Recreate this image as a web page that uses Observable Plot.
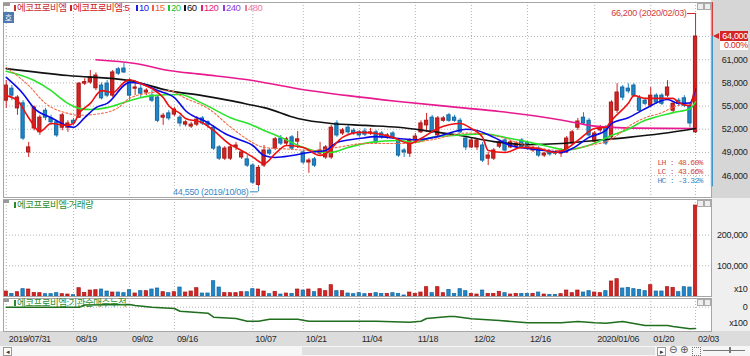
<!DOCTYPE html>
<html><head><meta charset="utf-8">
<script src="https://cdn.jsdelivr.net/npm/d3@7"></script>
<script src="https://cdn.jsdelivr.net/npm/@observablehq/plot@0.6"></script>
<style>
html,body{margin:0;padding:0;background:#fff;}
#wrap{position:relative;width:750px;height:356px;overflow:hidden;background:#fff;font-family:"Liberation Sans",Arial,sans-serif;}
</style></head><body><div id="wrap"></div>
<script>
// ---------------- data ----------------
const tickIdx = [0,12,22,30,44,53,63,73,83,93,105,115,123];
const tickLabels = ["2019/07/31","08/19","09/02","09/16","10/07","10/21","11/04","11/18","12/02","12/16","2020/01/06","01/20","02/03"];
const hiDate = "2020/02/03", loDate = "2019/10/08";
const changePct = "0.00%";

const openP = [55700,57250,54700,55350,49000,52100,51600,54400,53400,52900,52200,52200,53100,53500,57900,58050,57300,57650,57900,56350,59750,59850,58300,57250,57250,56750,56350,56100,53500,54050,53900,53500,52600,52350,52600,53400,52900,52200,49650,48200,48200,49650,48350,48100,47300,44800,47300,49250,49500,50800,50150,50950,50400,49000,47700,48100,48850,48350,48350,52750,51450,52200,51800,51600,51700,51450,51600,51450,50950,51450,50550,49250,48850,50550,51600,52500,53500,51200,53100,53800,53500,53100,50800,49650,49650,49900,48200,48200,49750,50550,49650,49750,50550,50200,49250,49500,48600,49000,49000,48850,49000,50150,52200,53500,53100,50400,51850,52200,50950,54400,57400,57250,57650,56000,55700,55050,56350,56350,56350,54400,55700,56000,55050,51600];
const highP = [58300,57650,56350,55700,50300,55000,53800,54700,53800,53100,54050,53100,53400,58050,58550,59600,59300,58000,58300,59600,60000,60500,58550,58300,57650,57250,57000,56350,54050,54400,54800,53800,53100,52900,53650,53650,53100,52500,49900,49750,49900,50300,49250,48600,47550,47300,49900,49500,50950,51200,50950,51200,51700,49250,48200,48350,50300,49900,52500,53100,52100,52500,52100,51850,52100,52100,51850,51700,51450,51700,50800,49500,50800,51450,53100,54050,53800,53650,53650,54050,53800,53400,51050,50800,50800,50300,49000,49500,50550,50800,50550,50400,50800,50400,49750,49750,49000,49250,49250,49500,51050,51850,53400,54150,53400,51700,52500,52500,55700,57900,57650,57900,57900,56350,56000,57400,56600,56600,58300,55450,56000,56350,55300,66200];
const lowP = [54700,55700,53800,50550,48350,51800,51200,53100,52500,50950,51800,51600,52500,53400,57650,57800,57000,55800,56100,56100,58950,59200,55700,56350,56100,56350,55450,52850,52500,53100,53650,52300,52300,52100,52350,52500,52100,49250,47950,47950,47950,49250,48100,47050,44850,44550,47050,48600,49250,49900,49900,49250,49500,47450,46300,47050,48600,48100,48100,50950,51200,51200,51200,50950,51050,51200,50050,50700,50700,50700,48350,48350,48350,50300,51450,51600,51450,50950,52900,52900,52900,51450,49250,49500,49250,47700,47300,47950,49500,49000,49500,49500,49500,49300,49000,48350,48350,48500,48600,48350,48850,49900,51850,52500,50950,50150,51600,49900,50550,54050,55700,56600,56100,54150,55050,54800,55200,55050,56100,54150,55050,54800,52200,51450];
const closeP = [57650,56350,56100,50800,49650,54800,53500,53500,52900,51200,53800,52750,52750,57900,58100,58700,58950,56000,56350,59350,59200,59350,56350,57400,56600,57000,55700,53100,53750,53400,54550,52750,52900,52600,53250,52750,52500,49500,48200,49500,49650,49900,49000,47300,45100,47000,49250,48850,50700,50150,50700,49500,50700,47700,47950,47300,49250,49650,52200,51200,51850,51600,51450,51200,51300,51600,50300,50950,51200,50950,48600,49000,50550,51050,52750,53100,51600,53400,53400,53100,53100,51600,49650,50550,50550,47950,48600,49250,50300,49250,50300,50150,49650,49550,49500,48600,48850,48750,48850,49250,50800,51600,53000,52750,51200,51450,52200,50150,55450,56750,56100,56900,56350,54400,55300,56350,55450,55300,57400,55300,55300,55050,52750,64000];
const volume = [16300,8700,14100,23900,22800,11900,10900,7600,7600,10900,7600,6500,4300,27100,11900,19500,20600,22800,16300,13000,13000,10900,20600,9800,17400,17400,22800,26100,14100,10900,14100,29300,13000,16300,27100,9800,9800,49900,29300,10900,10900,10900,14100,14100,23900,22800,16300,7600,15200,6500,9800,8700,22800,19500,22800,14100,23900,17400,36900,17400,17400,9800,7600,10900,7600,8700,10900,8700,8700,10900,8700,3300,13000,8700,13000,30400,10900,30400,10900,21700,8700,23900,17400,8700,6500,19500,8700,8700,15200,10900,6500,8700,8700,8700,8700,13000,6500,5400,5400,7600,19500,10900,19500,13000,17400,13000,10900,17400,48900,56400,26100,28200,23900,21700,17400,36900,16300,16300,30400,28200,14100,30400,29300,296400];

// moving averages: [day index, price]
const ma5 = [[0,56350],[2,55700],[4,53500],[6,51700],[8,52750],[11,52500],[12,52750],[13,54050],[15,55350],[17,57000],[19,56750],[21,58050],[22,58400],[24,57900],[26,57250],[28,56100],[29,55050],[31,54050],[32,53400],[35,52850],[37,51850],[40,50000],[41,49650],[44,48400],[46,47550],[48,48850],[50,49900],[53,49650],[56,48600],[57,48850],[60,50950],[63,51600],[66,51450],[69,50950],[72,50150],[74,50800],[77,52100],[81,52750],[83,52100],[85,50950],[86,49250],[89,49000],[92,49650],[95,49500],[98,49000],[100,49500],[102,50550],[105,52100],[107,52250],[108,53150],[111,55350],[112,56350],[114,56000],[117,56000],[119,56000],[120,55450],[122,55050],[123,58050]];
const ma10 = [[0,58700],[3,56600],[5,54700],[8,53500],[12,52250],[14,53500],[16,54800],[18,55350],[22,58050],[24,57900],[27,57000],[30,56100],[32,54400],[36,52850],[39,51450],[42,50550],[44,49900],[46,48600],[48,48350],[51,48600],[54,49000],[57,49250],[59,50300],[63,50800],[66,51050],[70,50800],[73,50650],[77,51050],[80,51700],[82,52000],[84,51850],[87,50950],[90,49900],[93,49500],[96,49250],[99,49000],[101,49500],[104,50950],[107,51850],[108,52750],[111,53500],[114,54650],[118,55850],[120,55350],[122,55400],[123,57200]];
const ma15 = [[0,60000],[4,57650],[7,55350],[11,54050],[13,53800],[17,54050],[20,54800],[22,56000],[26,56750],[29,57000],[32,56000],[36,54700],[40,52300],[43,50700],[46,49650],[49,49500],[55,49250],[59,49650],[64,50150],[70,50150],[76,50650],[82,51500],[87,51200],[93,49900],[99,49250],[104,49900],[108,50700],[111,52350],[114,53500],[117,54150],[119,54850],[122,55400]];
const ma20 = [[0,59500],[5,58300],[8,57000],[11,55350],[13,54700],[15,54550],[18,54800],[22,55700],[26,56350],[31,56500],[35,55350],[40,53500],[44,52500],[46,51850],[49,50950],[53,49650],[57,49000],[58,49000],[61,49650],[65,50300],[70,50550],[73,50300],[76,50950],[81,51250],[85,51400],[90,50800],[96,49900],[100,49350],[105,50200],[108,51200],[110,51700],[114,53150],[119,54150],[122,54650],[123,55550]];
const ma60 = [[0,59850],[11,58950],[22,58300],[29,57000],[35,56350],[40,55700],[44,55100],[46,54800],[52,53400],[58,52750],[64,52500],[70,52250],[76,51700],[81,51200],[87,50400],[93,50000],[99,50150],[105,50550],[111,50950],[117,51450],[123,52100]];
const ma120 = [[16,61000],[23,60500],[29,59600],[35,59100],[44,58300],[52,57250],[61,56350],[70,55600],[81,54800],[88,54300],[99,53200],[105,52400],[112,52150],[123,52100]];

// institutional net-buying cumulative (x100)
const instCum = [[0,0],[13,0],[14,22],[22,27],[23,17],[26,0],[30,-13],[31,-40],[36,-60],[37,-100],[41,-113],[43,-140],[45,-140],[47,-120],[52,-120],[54,-140],[66,-140],[72,-150],[74,-140],[75,-113],[79,-93],[80,-93],[83,-116],[88,-133],[93,-156],[99,-156],[102,-143],[105,-156],[107,-160],[110,-143],[114,-183],[118,-183],[119,-193],[122,-216],[123,-213]];

const priceTicks = [46000,49000,52000,55000,58000,61000];
const priceGrid = [46000,49000,52000,55000,58000,61000,64000];
const volTicks = [100000,200000];

// ---------------- drawing ----------------
const RED="#d42424", RED_S="#a81818", BLUE="#1f87c9", BLUE_S="#15669e", GRID="#b4b4b4";
const wrap = document.getElementById("wrap");
function box(css, html){const d=document.createElement("div");d.style.cssText="position:absolute;"+css;if(html!=null)d.innerHTML=html;wrap.appendChild(d);return d;}
const KFONT = "font-family:'Liberation Sans','Noto Sans CJK KR',sans-serif;font-size:9.5px;line-height:11px;white-space:nowrap;letter-spacing:-0.5px;";

// chrome backgrounds
box("left:711px;top:0;width:39px;height:198px;background:#d6d6d6;");
box("left:711px;top:198px;width:39px;height:133px;background:#efefef;");
box("left:0;top:331px;width:750px;height:15px;background:#dcdcdc;");
box("left:0;top:346px;width:750px;height:10px;background:#f6f6f6;");
box("left:302px;top:347px;width:353px;height:8px;background:#e0e0e0;");

const candles = openP.map((o,i)=>({i, o, h: highP[i], l: lowP[i], c: closeP[i], v: volume[i]}));
const ups = candles.filter(d=>d.c>=d.o), downs = candles.filter(d=>d.c<d.o);
const last = candles[candles.length-1];
const hiC = candles.reduce((a,b)=> b.h>a.h?b:a);
const loC = candles.reduce((a,b)=> b.l<a.l?b:a);
const fmt = d3.format(",");
const LH=(hiC.h/loC.l-1)*100, LC=(last.c/loC.l-1)*100, HC=(last.c/hiC.h-1)*100;

const xDom = [-0.4925, 125.845];
const bw = 0.29;
const baseStyle = {background:"transparent", fontFamily:"Liberation Sans, Arial, sans-serif", fontSize:"9px", color:"#222"};
const yDomP = [43170, 68400];

function place(svg, top){svg.style.position="absolute";svg.style.left="0px";svg.style.top=top+"px";svg.style.background="transparent";svg.style.letterSpacing="-0.3px";wrap.appendChild(svg);}

const line = (data, stroke, extra={}) => Plot.line(data, {x: d=>d[0], y: d=>d[1], stroke, strokeWidth: 1.6, curve: "monotone-x", ...extra});
const monoTxt = (t, dy, fill) => Plot.text([t], {frameAnchor: "bottom-right", dx: -54, dy, textAnchor: "start", fill, fontFamily: "Liberation Mono", fontSize: 8});

const price = Plot.plot({
  width: 750, height: 198, marginLeft: 3, marginRight: 39, marginTop: 2, marginBottom: 1,
  style: baseStyle,
  x: {domain: xDom, axis: null},
  y: {domain: yDomP, axis: null},
  marks: [
    Plot.ruleY(priceGrid, {stroke: GRID, strokeDasharray: "1,2"}),
    Plot.ruleX(tickIdx, {stroke: GRID, strokeDasharray: "1,2"}),
    Plot.ruleX(ups, {x: "i", y1: "l", y2: "h", stroke: RED}),
    Plot.ruleX(downs, {x: "i", y1: "l", y2: "h", stroke: BLUE}),
    Plot.rect(ups, {x1: d=>d.i-bw, x2: d=>d.i+bw, y1: "o", y2: "c", fill: RED, stroke: RED_S}),
    Plot.rect(downs, {x1: d=>d.i-bw, x2: d=>d.i+bw, y1: "o", y2: "c", fill: BLUE, stroke: BLUE_S}),
    line(ma120, "#e8188e"),
    line(ma60, "#111111"),
    line(ma20, "#2be32b"),
    line(ma15, "#f26a46", {strokeWidth: 1.1, strokeDasharray: "2,2"}),
    line(ma10, "#0a0ae6"),
    line(ma5, "#ee1010"),
    // period high annotation
    Plot.ruleX([hiC], {x: "i", y1: "h", y2: "h", insetTop: -6, stroke: RED}),
    Plot.ruleY([hiC], {y: "h", x1: "i", x2: "i", insetLeft: -8, dy: -6, stroke: RED}),
    Plot.text([hiC], {x: "i", y: "h", text: d => `${fmt(d.h)} (${hiDate})`, textAnchor: "end", dx: -9, dy: -6, fill: "#d23c3c", fontSize: 9}),
    // period low annotation
    Plot.ruleX([loC], {x: "i", y1: "l", y2: "l", insetBottom: -5, stroke: "#3a8ac8"}),
    Plot.ruleY([loC], {y: "l", x1: "i", x2: "i", insetLeft: -8, dy: 5, stroke: "#3a8ac8"}),
    Plot.text([loC], {x: "i", y: "l", text: d => `${fmt(d.l)} (${loDate})`, textAnchor: "end", dx: -10, dy: 5, fill: "#3a8ac8", fontSize: 9}),
    // right-edge price range bar
    Plot.ruleX([last], {x: "i", y1: "c", y2: () => yDomP[1], dx: 16.3, stroke: RED, strokeWidth: 2}),
    Plot.ruleX([last], {x: "i", y1: "c", y2: () => loC.l, dx: 16.3, stroke: "#2a8acb", strokeWidth: 2}),
    // LH / LC / HC
    monoTxt(`LH : ${LH.toFixed(2)}%`, -33, "#d04848"),
    monoTxt(`LC : ${LC.toFixed(2)}%`, -24, "#d04848"),
    monoTxt(`HC : ${HC.toFixed(2)}%`, -15, "#3a8ac8"),
    // right axis labels
    Plot.text(priceTicks, {y: d=>d, frameAnchor: "right", dx: 36, textAnchor: "end", text: d=>fmt(d), fill: "#222"}),
    Plot.frame({stroke: "#a6a6a6"})
  ]
});
place(price, 0);
d3.select(price).selectAll("text").filter(function(){return /^(LH|LC|HC) /.test(this.textContent);}).style("letter-spacing","-0.7px");

const vol = Plot.plot({
  width: 750, height: 99, marginLeft: 3, marginRight: 39, marginTop: 1, marginBottom: 1,
  style: baseStyle,
  x: {domain: xDom, axis: null},
  y: {domain: [0, 316000], axis: null},
  marks: [
    Plot.ruleY(volTicks, {stroke: GRID, strokeDasharray: "1,2"}),
    Plot.ruleX(tickIdx, {stroke: GRID, strokeDasharray: "1,2"}),
    Plot.rect(ups, {x1: d=>d.i-0.3, x2: d=>d.i+0.3, y1: 0, y2: "v", fill: RED, stroke: RED_S, strokeWidth: 0.7}),
    Plot.rect(downs, {x1: d=>d.i-0.3, x2: d=>d.i+0.3, y1: 0, y2: "v", fill: BLUE, stroke: BLUE_S, strokeWidth: 0.7}),
    Plot.text(volTicks, {y: d=>d, frameAnchor: "right", dx: 36, textAnchor: "end", text: d=>fmt(d), fill: "#222"}),
    Plot.text(["x10"], {frameAnchor: "bottom-right", dx: 36, dy: -5, textAnchor: "end", text: d=>d, fill: "#222"}),
    Plot.frame({stroke: "#a6a6a6"})
  ]
});
place(vol, 198);

const inst = Plot.plot({
  width: 750, height: 50, marginLeft: 3, marginRight: 39, marginTop: 1, marginBottom: 16,
  style: baseStyle,
  x: {domain: xDom, axis: null},
  y: {domain: [-243, 87], axis: null},
  marks: [
    Plot.ruleY([0], {stroke: GRID, strokeDasharray: "1,2"}),
    Plot.ruleX(tickIdx, {stroke: GRID, strokeDasharray: "1,2"}),
    Plot.line(instCum, {x: d=>d[0], y: d=>d[1], stroke: "#1e6e1e", strokeWidth: 1.6}),
    Plot.text([0], {y: d=>d, frameAnchor: "right", dx: 36, textAnchor: "end", text: d=>String(d), fill: "#222"}),
    Plot.text(["x100"], {frameAnchor: "bottom-right", dx: 36, dy: -6, textAnchor: "end", text: d=>d, fill: "#222"}),
    Plot.text(tickIdx, {x: d=>d, frameAnchor: "bottom", lineAnchor: "top", dy: 4, dx: 2.5, textAnchor: "start", text: (d,k)=>tickLabels[k], fill: "#2a2a2a"}),
    Plot.frame({stroke: "#a6a6a6"})
  ]
});
place(inst, 297);

// current price marker
const yc = price.scale("y").apply(last.c);
box(`left:713px;top:${yc-3.5}px;width:0;height:0;border-top:3.5px solid transparent;border-bottom:3.5px solid transparent;border-right:6px solid ${RED};`);
box(`left:720px;top:${yc-5}px;width:28px;height:10px;background:${RED};color:#fff;font:9px/10px 'Liberation Sans',sans-serif;text-align:right;letter-spacing:-0.3px;`, fmt(last.c));
box(`left:720px;top:${yc+5}px;width:28px;height:9px;background:#fff;color:${RED};font:9px/9px 'Liberation Sans',sans-serif;text-align:right;letter-spacing:-0.3px;`, changePct);

// legends
box("left:3px;top:3px;width:7px;height:3px;background:#9a9a9a;");
box("left:3px;top:12px;width:11px;height:11px;background:#4f79b0;color:#fff;font:8px/11px 'Noto Sans CJK KR',sans-serif;text-align:center;", "호");
const leg = [
  [14, "에코프로비엠", "#c83232"], [70, "에코프로비엠:5", "#d42020"], [136, "10", "#1a1ae0"],
  [152, "15", "#f2603c"], [168, "20", "#22c83a"], [184, "60", "#111"],
  [201, "120", "#e0207a"], [223, "240", "#8a3ee0"], [245, "480", "#f07aa0"]
];
leg.forEach(([x, t, c]) => {
  box(`left:${x}px;top:5px;width:2px;height:6px;background:${c};`);
  box(`left:${x+3}px;top:2px;${KFONT}color:${c};`, t);
});
box("left:3px;top:200px;width:6px;height:3px;background:#9a9a9a;");
box("left:14px;top:202px;width:2px;height:6px;background:#2a8a2a;");
box(`left:17px;top:199px;${KFONT}color:#2f8f2f;`, "에코프로비엠:거래량");
box("left:3px;top:299px;width:6px;height:3px;background:#9a9a9a;");
box("left:14px;top:300px;width:2px;height:6px;background:#2a8a2a;");
box(`left:17px;top:297px;${KFONT}color:#2f8f2f;`, "에코프로비엠:기관순매수누적");

// small panel buttons
[3, 200, 299].forEach(t => {
  box(`left:697px;top:${t}px;width:5px;height:5px;background:#eee;border:1px solid #aaa;`);
  box(`left:704px;top:${t}px;width:5px;height:5px;background:#eee;border:1px solid #aaa;`);
});
// scrollbar controls
box("left:3px;top:347px;width:7px;height:7px;background:#fff;border:1px solid #999;font:7px/7px sans-serif;text-align:center;color:#333;", "◂");
box("left:657px;top:347px;width:7px;height:7px;background:#fff;border:1px solid #999;font:7px/7px sans-serif;text-align:center;color:#333;", "▸");
box("left:669px;top:345px;font:10px/10px 'DejaVu Sans',sans-serif;color:#555;", "⊖");
box("left:680px;top:345px;font:10px/10px 'DejaVu Sans',sans-serif;color:#555;", "⊕");
box("left:692px;top:347px;width:7px;height:7px;border:1px dotted #777;");
box("left:703px;top:350px;width:42px;height:1px;background:#777;");
box("left:729px;top:347px;width:2px;height:6px;background:#777;");
</script></body></html>
